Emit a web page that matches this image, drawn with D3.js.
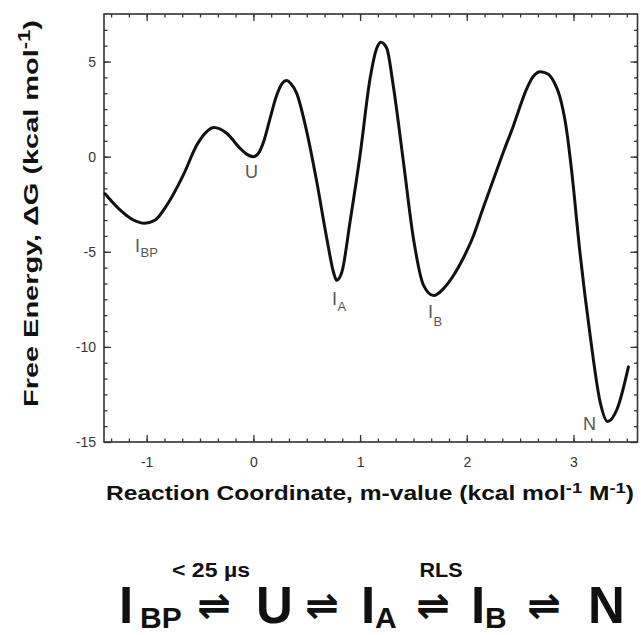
<!DOCTYPE html>
<html>
<head>
<meta charset="utf-8">
<script src="https://cdn.jsdelivr.net/npm/d3@7"></script>
<style>
  html, body { margin: 0; padding: 0; background: #fff; }
  svg { display: block; }
  text { font-family: Arial, "Liberation Sans", sans-serif; }
</style>
</head>
<body>
<svg id="chart" width="641" height="635"></svg>
<script>
// ---- data ----
const reactionCoord = [-1.39, -1.25, -1.125, -1.02, -0.92, -0.81, -0.656, -0.53, -0.437, -0.37, -0.25, -0.125, -0.06, 0.0,
  0.05, 0.1, 0.156, 0.22, 0.27, 0.31, 0.35, 0.406, 0.5, 0.594, 0.688, 0.75, 0.78, 0.83, 0.906, 1.0, 1.094, 1.156, 1.195, 1.25,
  1.31, 1.406, 1.5, 1.594, 1.69, 1.78, 1.875, 1.97, 2.06, 2.15, 2.25, 2.35, 2.44, 2.5, 2.56, 2.62, 2.69, 2.76, 2.82, 2.87, 2.93, 2.98, 3.06, 3.156,
  3.25, 3.32, 3.41, 3.515];
const freeEnergy = [-1.95, -2.8, -3.33, -3.5, -3.33, -2.54, -0.96, 0.61, 1.32, 1.53, 1.23, 0.44, 0.12, 0.0,
  0.2, 0.85, 2.0, 3.25, 3.85, 4.0, 3.85, 3.33, 1.32, -1.32, -4.3, -6.05, -6.5, -6.05, -3.42, 0.09, 4.12, 5.7, 6.02, 5.7,
  3.77, -0.26, -4.3, -6.75, -7.3, -6.95, -6.25, -5.3, -4.2, -2.75, -1.2, 0.35, 1.67, 2.65, 3.55, 4.2, 4.47, 4.35, 3.9, 3.2, 1.6, -0.6, -5.0, -9.39,
  -12.9, -13.92, -13.25, -11.05];
const xTickValues = [-1, 0, 1, 2, 3];
const xTickLabels = ["-1", "0", "1", "2", "3"];
const yTickValues = [5, 0, -5, -10, -15];
const yTickLabels = ["5", "0", "-5", "-10", "-15"];
const stateNames = ["I", "U", "I", "I", "N"];
const stateSubs = ["BP", "", "A", "B", ""];
const xDomain = [-1.4, 3.6];
const yDomain = [-15, 7.5];

// ---- layout ----
const svg = d3.select("#chart");
const L = 104, R = 637.5, T = 14, B = 442;
const x = d3.scaleLinear().domain(xDomain).range([L, R]);
const y = d3.scaleLinear().domain(yDomain).range([B, T]);

const axisColor = "#333";
const minorX = d3.range(-8, 22).map(k => k / 6).filter(v => v > xDomain[0] && v < xDomain[1]);
const minorY = d3.range(-17, 9).map(k => k * 5 / 6);

function styleAxis(g) {
  g.select(".domain").remove();
  g.selectAll(".tick line").attr("stroke", axisColor).attr("stroke-width", 1.3);
  g.selectAll(".tick text").attr("fill", "#333").style("font-size", "14px")
    .style("font-family", "Arial, 'Liberation Sans', sans-serif");
}

// minor ticks
svg.append("g").attr("transform", `translate(0,${B})`)
  .call(d3.axisBottom(x).tickValues(minorX).tickSize(-3.5).tickFormat("")).call(styleAxis);
svg.append("g").attr("transform", `translate(0,${T})`)
  .call(d3.axisTop(x).tickValues(minorX).tickSize(-3.5).tickFormat("")).call(styleAxis);
svg.append("g").attr("transform", `translate(${L},0)`)
  .call(d3.axisLeft(y).tickValues(minorY).tickSize(-3.5).tickFormat("")).call(styleAxis);
svg.append("g").attr("transform", `translate(${R},0)`)
  .call(d3.axisRight(y).tickValues(minorY).tickSize(-3.5).tickFormat("")).call(styleAxis);

// major ticks
svg.append("g").attr("transform", `translate(0,${B})`)
  .call(d3.axisBottom(x).tickValues(xTickValues).tickSize(-7).tickPadding(15)
    .tickFormat((d, i) => xTickLabels[i])).call(styleAxis);
svg.append("g").attr("transform", `translate(0,${T})`)
  .call(d3.axisTop(x).tickValues(xTickValues).tickSize(-7).tickFormat("")).call(styleAxis);
svg.append("g").attr("transform", `translate(${L},0)`)
  .call(d3.axisLeft(y).tickValues(yTickValues).tickSize(-7).tickPadding(8)
    .tickFormat((d, i) => yTickLabels[i])).call(styleAxis);
svg.append("g").attr("transform", `translate(${R},0)`)
  .call(d3.axisRight(y).tickValues(yTickValues).tickSize(-7).tickFormat("")).call(styleAxis);

// frame
svg.append("rect").attr("x", L).attr("y", T).attr("width", R - L).attr("height", B - T)
  .attr("fill", "none").attr("stroke", axisColor).attr("stroke-width", 1.6);

// curve
const pts = reactionCoord.map((d, i) => [d, freeEnergy[i]]);
const line = d3.line().x(d => x(d[0])).y(d => y(d[1])).curve(d3.curveMonotoneX);
svg.append("path").datum(pts).attr("d", line)
  .attr("fill", "none").attr("stroke", "#111").attr("stroke-width", 3)
  .attr("stroke-linejoin", "round").attr("stroke-linecap", "round");

// state labels
const labelPos = [[135, 252, 257], [245, 178, 178], [332, 305, 311], [428, 318, 326], [583, 430, 430]];
stateNames.forEach((nm, i) => {
  const [lx, ly, sy] = labelPos[i];
  const t = svg.append("text").attr("x", lx).attr("y", ly).attr("fill", "#555")
    .style("font-size", "18px").text(nm);
  if (stateSubs[i]) {
    const bb = t.node().getBBox();
    svg.append("text").attr("x", lx + bb.width + 0.5).attr("y", sy).attr("fill", "#555")
      .style("font-size", "13px").text(stateSubs[i]);
  }
});

// axis titles
const xt = svg.append("text").attr("x", 106).attr("y", 500)
  .attr("textLength", 528).attr("lengthAdjust", "spacingAndGlyphs")
  .attr("fill", "#111").style("font-size", "20px").style("font-weight", "bold");
xt.append("tspan").text("Reaction Coordinate, m-value (kcal mol");
xt.append("tspan").attr("dy", -7).style("font-size", "15px").text("-1");
xt.append("tspan").attr("dy", 7).text(" M");
xt.append("tspan").attr("dy", -7).style("font-size", "15px").text("-1");
xt.append("tspan").attr("dy", 7).text(")");

const yt = svg.append("text").attr("transform", "translate(38,407) rotate(-90)")
  .attr("textLength", 387).attr("lengthAdjust", "spacingAndGlyphs")
  .attr("fill", "#111").style("font-size", "21px").style("font-weight", "bold");
yt.append("tspan").text("Free Energy, \u0394G (kcal mol");
yt.append("tspan").attr("dy", -8).style("font-size", "16px").text("-1");
yt.append("tspan").attr("dy", 8).text(")");

// scheme
const eq = svg.append("g").attr("fill", "#111").style("font-weight", "bold");
const big = 51, sub = 30, base = 623, subBase = 628;
function tx(xx, yy, size, str, anchor) {
  return eq.append("text").attr("x", xx).attr("y", yy).attr("text-anchor", anchor || "start")
    .style("font-size", size + "px").style("font-weight", "bold").text(str);
}
tx(119, base, big, "I");
tx(140, subBase, sub, "BP");
tx(256, base, big, "U");
tx(361, base, big, "I");
tx(375, subBase, sub, "A");
tx(471, base, big, "I");
tx(485, subBase, sub, "B");
tx(588, base, big, "N");
[214, 322, 433, 544].forEach(cx => {
  eq.append("text").attr("x", cx).attr("y", 619).attr("text-anchor", "middle")
    .style("font-family", "'DejaVu Sans', sans-serif").style("font-size", "40px").text("\u21CC");
});
tx(211, 577, 20, "< 25 \u00B5s", "middle").attr("textLength", 78).attr("lengthAdjust", "spacingAndGlyphs");
tx(441, 577, 20, "RLS", "middle").attr("textLength", 43).attr("lengthAdjust", "spacingAndGlyphs");
</script>
</body>
</html>
